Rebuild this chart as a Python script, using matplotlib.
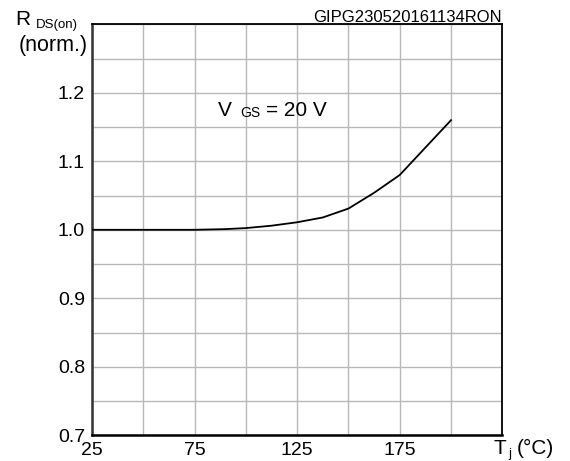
import matplotlib
matplotlib.use('Agg')
import matplotlib.pyplot as plt

plt.rcParams['font.family'] = ['Liberation Sans', 'DejaVu Sans']

# junction temperature (deg C) vs normalised on-resistance
tj = [25, 50, 75, 90, 100, 112.5, 125, 137.5, 150, 162.5, 175, 187.5, 200]
rds = [1.0, 1.0, 1.0, 1.001, 1.0025, 1.006, 1.011, 1.018, 1.031, 1.054, 1.08, 1.12, 1.16]

x_ticks = [25, 50, 75, 100, 125, 150, 175, 200, 225]
x_labels = ['25', '', '75', '', '125', '', '175', '', '']
y_ticks = [0.7, 0.75, 0.8, 0.85, 0.9, 0.95, 1.0, 1.05, 1.1, 1.15, 1.2, 1.25, 1.3]
y_labels = ['0.7', '', '0.8', '', '0.9', '', '1.0', '', '1.1', '', '1.2', '', '']

W, H = 570, 461
fig = plt.figure(figsize=(W / 100, H / 100), dpi=100)
ax = fig.add_axes([92 / W, (H - 435.3) / H, (502.3 - 92) / W, (435.3 - 24.3) / H])

ax.plot(tj, rds, color='black', lw=1.3, zorder=3)

ax.set_xlim(25, 225)
ax.set_ylim(0.7, 1.3)
ax.set_xticks(x_ticks)
ax.set_xticklabels(x_labels)
ax.set_yticks(y_ticks)
ax.set_yticklabels(y_labels)
ax.tick_params(length=0, labelsize=14, pad=5)
ax.grid(True, color='#b8b8b8', lw=1.0)
for s in ax.spines.values():
    s.set_color('black')
    s.set_linewidth(1.3)
ax.spines['left'].set_color('#333333')
ax.spines['left'].set_linewidth(1.8)
ax.spines['bottom'].set_linewidth(1.8)


def px(x, y):
    return x / W, 1 - y / H


# axis titles and annotations
fig.text(*px(15, 25), 'R', fontsize=15, va='baseline')
fig.text(*px(36, 28), 'DS(on)', fontsize=9.5, va='baseline')
fig.text(*px(88, 51), '(norm.)', fontsize=15.5, va='baseline', ha='right')

fig.text(*px(502, 22), 'GIPG230520161134RON', fontsize=12, va='baseline', ha='right')

fig.text(*px(218, 116), 'V', fontsize=15, va='baseline')
fig.text(*px(240, 117), 'GS', fontsize=10, va='baseline')
fig.text(*px(266, 116), '= 20 V', fontsize=15, va='baseline')

fig.text(*px(494, 454), 'T', fontsize=15, va='baseline')
fig.text(*px(508, 457), 'j', fontsize=9.5, va='baseline')
fig.text(*px(517, 454), '(°C)', fontsize=15, va='baseline')

fig.savefig('out.png', dpi=100)
